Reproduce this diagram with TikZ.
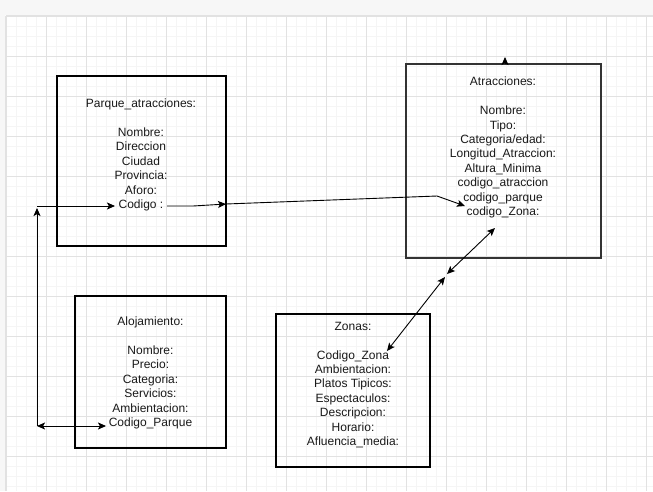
\documentclass[tikz,border=0pt]{standalone}
\usepackage{fontspec}
\setmainfont{Liberation Sans}
\usetikzlibrary{arrows.meta}
\definecolor{minorgrid}{HTML}{F5F5F5}
\definecolor{majorgrid}{HTML}{E2E2E2}
\definecolor{band}{HTML}{F7F7F7}
\begin{document}
\begin{tikzpicture}[x=1pt,y=-1pt,
  entity/.style={draw=black,line width=1.3pt,inner sep=0pt,outer sep=0pt},
  label/.style={align=center,inner sep=0pt,text=black!90,font=\fontsize{12}{14.4}\selectfont},
  conn/.style={draw=black,line width=0.9pt},
  tip/.style={-{Stealth[length=8pt,width=7pt,inset=1.8pt]}},
  dtip/.style={{Stealth[length=8pt,width=7pt,inset=1.8pt]}-{Stealth[length=8pt,width=7pt,inset=1.8pt]}}]
% background and grid
\fill[white] (0,0) rectangle (653,491);
\useasboundingbox (0,0) rectangle (653,491);
\foreach \x in {16,26,...,653} \draw[minorgrid,line width=0.6pt] (\x,16) -- (\x,491);
\foreach \y in {26,36,...,491} \draw[minorgrid,line width=0.6pt] (6,\y) -- (653,\y);
\foreach \x in {6,46,...,653} \draw[majorgrid,line width=0.7pt] (\x,16) -- (\x,491);
\foreach \y in {16,56,...,491} \draw[majorgrid,line width=0.7pt] (6,\y) -- (653,\y);
\fill[band] (0,0) rectangle (653,15);
\fill[band] (0,0) rectangle (5,491);
\draw[majorgrid,line width=0.8pt] (5.5,15.5) -- (653,15.5);
\draw[majorgrid,line width=0.8pt] (5.5,15.5) -- (5.5,491);

% boxes
\node[entity,minimum width=169pt,minimum height=170pt] (parque) at (141.5,161) {};
\node[entity,draw=black!80,line width=1.6pt,minimum width=195pt,minimum height=194pt] (atr) at (503.5,161) {};
\node[entity,minimum width=151pt,minimum height=152pt] (aloj) at (150.5,372) {};
\node[entity,minimum width=154pt,minimum height=153pt] (zonas) at (353,390.5) {};

% texts
\node[label] (tparque) at (141,155) {Parque\_atracciones:\\[14.4pt]Nombre:\\Direccion\\Ciudad\\Provincia:\\Aforo:\\Codigo :};
\node[label] (tatr) at (503,147.5) {Atracciones:\\[14.4pt]Nombre:\\Tipo:\\Categoria/edad:\\Longitud\_Atraccion:\\Altura\_Minima\\codigo\_atraccion\\codigo\_parque\\codigo\_Zona:};
\node[label] (taloj) at (150.5,373) {Alojamiento:\\[14.4pt]Nombre:\\Precio:\\Categoria:\\Servicios:\\Ambientacion:\\Codigo\_Parque};
\node[label] (tzonas) at (353,385) {Zonas:\\[14.4pt]Codigo\_Zona\\Ambientacion:\\Platos Tipicos:\\Espectaculos:\\Descripcion:\\Horario:\\Afluencia\_media:};

% connector coordinates
\coordinate (bl) at (37,426);
\coordinate (tl) at (37,208);
\coordinate (tl2) at (37,206);
\coordinate (codigoin) at (115,206);
\coordinate (alojin) at (106,426);
\coordinate (codigoout) at (167,206);
\coordinate (mid1) at (193,206);
\coordinate (pedge) at (226,204);
\coordinate (bend) at (437,196);
\coordinate (cparque) at (465,206);
\coordinate (czona) at (495,228);
\coordinate (j1) at (447,274);
\coordinate (j2) at (445,277);
\coordinate (zcode) at (387,351);
\coordinate (topa) at (505,64);
\coordinate (topb) at (505,57);

% connectors
\draw[conn,dtip] (bl) -- (alojin);
\draw[conn,tip] (bl) -- (tl);
\draw[conn,tip] (tl2) -- (codigoin);
\draw[conn,tip] (codigoout) -- (mid1) -- (pedge);
\draw[conn,tip] (pedge) -- (bend) -- (cparque);
\draw[conn,dtip] (czona) -- (j1);
\draw[conn,dtip] (j2) -- (zcode);
\draw[conn,tip] (topa) -- (topb);
\end{tikzpicture}
\end{document}
